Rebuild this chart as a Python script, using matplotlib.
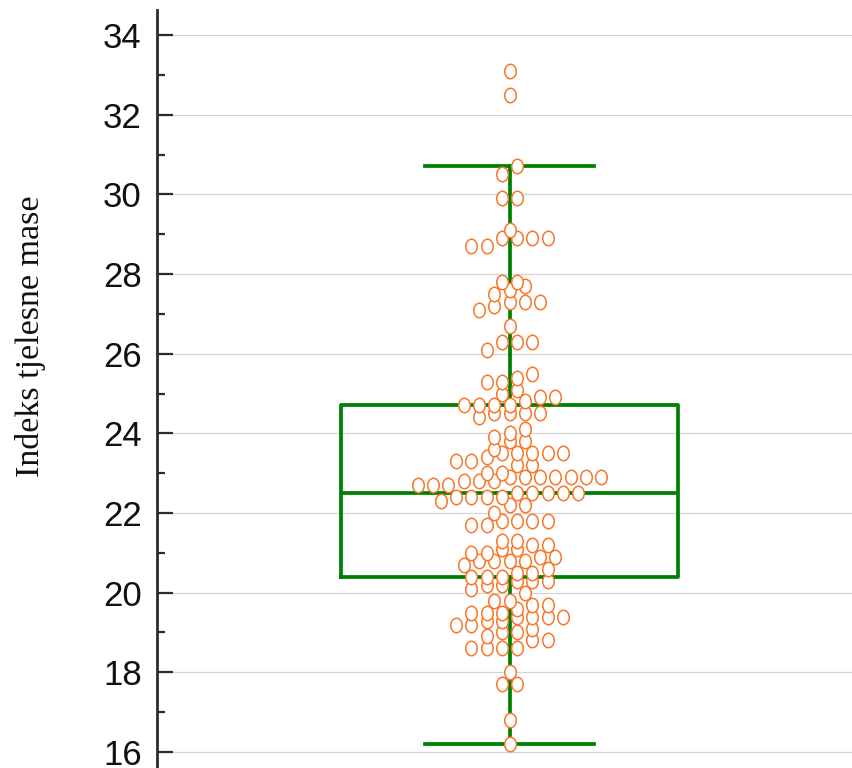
import numpy as np
import matplotlib
matplotlib.use("Agg")
import matplotlib.pyplot as plt
from matplotlib.path import Path
from matplotlib.ticker import MultipleLocator

# ---- data (body mass index values) ----
bmi = [16.2, 16.8, 17.7, 17.7, 18.0,
       18.6, 18.6, 18.6, 18.6, 18.8, 18.8,
       18.9, 19.0, 19.0, 19.1,
       19.2, 19.2, 19.3, 19.3, 19.4, 19.4, 19.4, 19.4,
       19.5, 19.5, 19.5, 19.6, 19.7, 19.7,
       19.8, 19.8, 20.0,
       20.1, 20.2, 20.2, 20.3, 20.3, 20.3,
       20.4, 20.4, 20.4, 20.5, 20.5, 20.6,
       20.7, 20.8, 20.8, 20.8, 20.8, 20.9, 20.9,
       21.0, 21.0, 21.1, 21.1, 21.2, 21.2,
       21.3, 21.3,
       21.7, 21.7, 21.8, 21.8, 21.8, 21.8,
       22.0, 22.2, 22.2,
       22.3, 22.4, 22.4, 22.4, 22.4, 22.5, 22.5, 22.5, 22.5, 22.5,
       22.7, 22.7, 22.7, 22.8, 22.8, 22.8,
       22.9, 22.9, 22.9, 22.9, 22.9, 22.9, 22.9,
       23.0, 23.0, 23.2, 23.2,
       23.3, 23.3, 23.4, 23.5, 23.5, 23.5, 23.5, 23.5,
       23.6, 23.8, 23.8,
       23.9, 24.0, 24.1,
       24.4, 24.5, 24.5, 24.5, 24.5,
       24.7, 24.7, 24.7, 24.7, 24.8, 24.9, 24.9,
       25.0, 25.1,
       25.3, 25.3, 25.4, 25.5,
       26.1, 26.3, 26.3, 26.3,
       26.7,
       27.1, 27.2, 27.3, 27.3, 27.3,
       27.5, 27.6, 27.7,
       27.8, 27.8,
       28.7, 28.7, 28.9, 28.9, 28.9, 28.9,
       29.1,
       29.9, 29.9,
       30.5, 30.7,
       32.5, 33.1]
y_label = "Indeks tjelesne mase"
y_ticks = [16, 18, 20, 22, 24, 26, 28, 30, 32, 34]

# ---- style constants ----
GREEN = "#008000"
ORANGE = "#f8772a"
BIN = 0.25          # dot-plot binning height (data units)
STEP = 0.0453       # horizontal spacing of dots in a row (data units)


def dot_layout(values, width, step):
    """Wilkinson-style dot plot: bin sorted values, spread each bin in a centred row."""
    vals = sorted(values)
    xs, ys = [], []
    i = 0
    while i < len(vals):
        j = i
        while j < len(vals) and vals[j] - vals[i] < width:
            j += 1
        grp = vals[i:j]
        n = len(grp)
        for k, v in enumerate(grp):
            xs.append((k - (n - 1) / 2) * step)
            ys.append(v)
        i = j
    return np.array(xs), np.array(ys)


fig = plt.figure(figsize=(8.53, 7.68), dpi=100)
ax = fig.add_axes([157 / 853, 0.0, 696 / 853, 758 / 768])

ax.set_xlim(-1.046, 1.019)
ax.set_ylim(15.598, 34.628)

lw = 2.7
ax.boxplot([bmi], positions=[0], widths=1.0, whis=1.5, showfliers=False,
           capwidths=0.5,
           boxprops=dict(color=GREEN, linewidth=lw),
           whiskerprops=dict(color=GREEN, linewidth=lw),
           capprops=dict(color=GREEN, linewidth=lw),
           medianprops=dict(color=GREEN, linewidth=lw),
           zorder=3)

# ellipse marker (slightly narrower than tall, as in the reference)
circ = Path.unit_circle()
ell = Path(circ.vertices * np.array([0.8, 1.0]), circ.codes)

xs, ys = dot_layout(bmi, BIN, STEP)
ax.plot(xs, ys, linestyle="none", marker=ell, markersize=10.4,
        markerfacecolor="white", markeredgecolor=ORANGE,
        markeredgewidth=1.1, zorder=4)

# axes styling
for s in ("top", "right", "bottom"):
    ax.spines[s].set_visible(False)
ax.spines["left"].set_color("#2b2b2b")
ax.spines["left"].set_linewidth(2.0)
ax.set_xticks([])
ax.yaxis.set_major_locator(MultipleLocator(2))
ax.yaxis.set_minor_locator(MultipleLocator(1))
ax.set_yticks(y_ticks)
ax.tick_params(axis="y", which="major", direction="in", length=11.5, width=1.6,
               color="#2b2b2b", pad=11, labelsize=25, labelcolor="#111111")
ax.tick_params(axis="y", which="minor", direction="in", length=5.8, width=1.6,
               color="#2b2b2b")
for lab in ax.get_yticklabels():
    lab.set_fontfamily("Liberation Sans")
ax.yaxis.grid(True, which="major", color="#d4d4d4", linewidth=0.9, zorder=0)
ax.set_axisbelow(True)

fig.text(31 / 853, 1 - 336 / 768, y_label, rotation=90, ha="center", va="center",
         fontsize=24.5, family="Liberation Serif", color="#111111")

fig.savefig("out.png", dpi=100)
